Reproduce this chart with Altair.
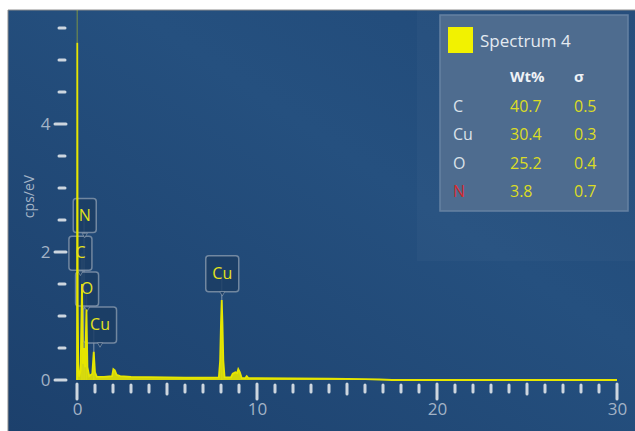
import altair as alt
import pandas as pd

# ---- EDS spectrum: energy (keV) and intensity (cps/eV) ----
energy = [0.0, 0.015, 0.04, 0.07, 0.12, 0.2, 0.277, 0.33, 0.392, 0.45, 0.525, 0.58,
          0.68, 0.85, 0.93, 1.0, 1.1, 1.5, 1.95, 2.02, 2.1, 2.2, 2.4, 3.0, 4.0,
          5.0, 6.0, 7.0, 7.88, 7.95, 8.0, 8.04, 8.08, 8.13, 8.2, 8.55, 8.65,
          8.8, 8.9, 8.96, 9.05, 9.15, 9.35, 9.43, 9.52, 10.0, 12.0, 14.0, 16.0,
          16.8, 17.5, 30.0]
cps = [0.0, 5.27, 1.2, 0.25, 0.05, 0.15, 1.5, 0.25, 0.5, 0.2, 1.1, 0.2,
       0.06, 0.1, 0.44, 0.12, 0.05, 0.05, 0.06, 0.17, 0.15, 0.08, 0.06, 0.05, 0.045,
       0.04, 0.035, 0.035, 0.04, 0.3, 0.9, 1.25, 0.9, 0.3, 0.04, 0.04, 0.1,
       0.12, 0.11, 0.17, 0.12, 0.03, 0.03, 0.06, 0.03, 0.03, 0.025, 0.02, 0.015,
       0.008, 0.0, 0.0]

# ---- peak identification labels ----
label_el = ["N", "C", "O", "Cu", "Cu"]
label_line = [0.392, 0.277, 0.525, 0.93, 8.04]   # line energy, keV
label_x = [0.43, 0.19, 0.56, 1.28, 8.07]          # label anchor, keV
label_y = [2.57, 1.98, 1.42, 0.86, 1.66]          # label anchor, cps/eV
label_kind = ["single", "single", "single", "double", "double"]

# ---- quantification table ----
spectrum_name = "Spectrum 4"
quant_el = ["C", "Cu", "O", "N"]
quant_wt = ["40.7", "30.4", "25.2", "3.8"]
quant_sigma = ["0.5", "0.3", "0.4", "0.7"]

# ---- axis ticks ----
x_major = [0, 10, 20, 30]
x_mid = [5, 15, 25]
x_minor = [v for v in range(1, 30) if v % 5 != 0]
y_major = [0, 2, 4]
y_minor = [0.5, 1, 1.5, 2.5, 3, 3.5, 4.5, 5, 5.5]

# ---- layout ----
W, H = 540, 368
PAD = {"left": 77, "top": 12, "right": 18, "bottom": 51}
PX_PER_CPS = 64
xs = alt.Scale(domain=[0, 30], nice=False, zero=False)
ys = alt.Scale(domain=[0, H / PX_PER_CPS], nice=False)

YELLOW = "#e6e600"
TICK = "#cdd6df"
LABEL = "#a3b3c6"
FONT = "Open Sans"

spec = pd.DataFrame({"e": energy, "c": cps})

labels = pd.DataFrame({
    "el": label_el, "line": label_line, "lx": label_x, "ly": label_y,
    "kind": label_kind,
})

# background panel with a soft diagonal sheen
panel = alt.Chart(pd.DataFrame({"a": [0]})).mark_rect(
    color=alt.Gradient(
        gradient="linear", x1=0, y1=1, x2=1, y2=0,
        stops=[alt.GradientStop(color="#1c406c", offset=0),
               alt.GradientStop(color="#25507f", offset=0.6),
               alt.GradientStop(color="#214a79", offset=1)]),
    stroke="#8c8c8c", strokeWidth=1,
).encode(x=alt.value(-69), x2=alt.value(560), y=alt.value(-2), y2=alt.value(421))

# faint halo behind the results table
halo = alt.Chart(pd.DataFrame({"a": [0]})).mark_rect(
    color="white", opacity=0.025
).encode(x=alt.value(340), x2=alt.value(560), y=alt.value(-2), y2=alt.value(249))

# tick marks
def xticks(vals, y0, y1):
    return alt.Chart(pd.DataFrame({"v": vals})).mark_rule(
        color=TICK, strokeWidth=3, strokeCap="round"
    ).encode(x=alt.X("v:Q", scale=xs), y=alt.value(y0), y2=alt.value(y1))

def yticks(vals, x0, x1):
    return alt.Chart(pd.DataFrame({"v": vals})).mark_rule(
        color=TICK, strokeWidth=3, strokeCap="round"
    ).encode(y=alt.Y("v:Q", scale=ys), x=alt.value(x0), x2=alt.value(x1))

ticks = [
    xticks(x_major, H + 4, H + 19),
    xticks(x_mid, H + 4, H + 14),
    xticks(x_minor, H + 5, H + 12),
    yticks(y_major, -22, -11),
    yticks(y_minor, -18, -12),
]

# pointer lines from the baseline to each label
pointers = alt.Chart(labels).mark_rule(
    color="#9aa9ba", opacity=0.55, strokeWidth=1.5
).encode(x=alt.X("line:Q", scale=xs), y=alt.Y("ly:Q", scale=ys), y2=alt.value(H))

box_style = dict(fill="#1b3d64", fillOpacity=0.85, stroke="#8799ad",
                 strokeWidth=1.5, strokeOpacity=0.8)
boxes_single = alt.Chart(labels).transform_filter(
    alt.datum.kind == "single"
).mark_rect(width=23, height=34, cornerRadius=3, **box_style).encode(
    x=alt.X("lx:Q", scale=xs), y=alt.Y("ly:Q", scale=ys))
boxes_double = alt.Chart(labels).transform_filter(
    alt.datum.kind == "double"
).mark_rect(width=33, height=36, cornerRadius=3, **box_style).encode(
    x=alt.X("lx:Q", scale=xs), y=alt.Y("ly:Q", scale=ys))
notch = alt.Chart(labels).mark_point(
    shape="triangle-down", size=28, filled=True, fill="#1b3d64",
    fillOpacity=0.9, stroke="#8799ad", strokeWidth=1, strokeOpacity=0.7,
    yOffset=20,
).encode(x=alt.X("lx:Q", scale=xs), y=alt.Y("ly:Q", scale=ys))

# the spectrum itself (its layer also carries the axes)
axis_common = dict(ticks=False, tickSize=0, domain=False, grid=False,
                   labelFontSize=17, labelColor=LABEL, labelFont=FONT,
                   zindex=2)
area = alt.Chart(spec).mark_area(color=YELLOW, opacity=0.9).encode(
    x=alt.X("e:Q", scale=xs,
            axis=alt.Axis(values=x_major, format="d", labelPadding=21,
                          labelFlush=False, title=None, **axis_common)),
    y=alt.Y("c:Q", scale=ys,
            axis=alt.Axis(values=y_major, format="d", labelPadding=27,
                          title="cps/eV", titleColor=LABEL, titleFont=FONT,
                          titleFontSize=14, titleFontWeight="normal",
                          titleX=-48, titleY=184, titleAngle=270,
                          titleAlign="center", titleBaseline="middle",
                          **axis_common)),
)
line = alt.Chart(spec).mark_line(color=YELLOW, strokeWidth=1.8).encode(
    x=alt.X("e:Q", scale=xs), y=alt.Y("c:Q", scale=ys))

# faint marker above the zero-energy peak
marker = alt.Chart(pd.DataFrame({"e": [energy[1]], "c": [cps[1]]})).mark_rule(
    color=YELLOW, opacity=0.3, strokeWidth=1.5
).encode(x=alt.X("e:Q", scale=xs), y=alt.Y("c:Q", scale=ys), y2=alt.value(-2))

label_text = alt.Chart(labels).mark_text(
    font=FONT, fontSize=16, color="#e3e31c", baseline="middle", align="center"
).encode(x=alt.X("lx:Q", scale=xs), y=alt.Y("ly:Q", scale=ys), text="el:N")

# results table
table_box = alt.Chart(pd.DataFrame({"a": [0]})).mark_rect(
    fill="#4e6c8f", stroke="#6581a2", strokeWidth=1.5
).encode(x=alt.value(363), x2=alt.value(551), y=alt.value(3), y2=alt.value(199))
swatch = alt.Chart(pd.DataFrame({"a": [0]})).mark_rect(fill="#f2f200").encode(
    x=alt.value(371), x2=alt.value(396), y=alt.value(15), y2=alt.value(41))
title_txt = alt.Chart(pd.DataFrame({"t": [spectrum_name]})).mark_text(
    font=FONT, fontSize=17, color="#e4eaf1", align="left", baseline="alphabetic"
).encode(x=alt.value(403), y=alt.value(35), text="t:N")
head = pd.DataFrame({"t": ["Wt%", "σ"], "px": [433, 497]})
head_txt = alt.Chart(head).mark_text(
    font=FONT, fontSize=15, fontWeight="bold", color="#eef2f6", align="left",
    baseline="alphabetic"
).encode(x=alt.X("px:Q", scale=None), y=alt.value(70), text="t:N")

rows = pd.DataFrame({
    "el": quant_el, "wt": quant_wt, "sig": quant_sigma,
    "py": [100 + 28.3 * i for i in range(len(quant_el))],
    "ec": ["#dbe2ea", "#dbe2ea", "#dbe2ea", "#d42a2e"],
})
row_el = alt.Chart(rows).mark_text(
    font=FONT, fontSize=16, align="left", baseline="alphabetic"
).encode(x=alt.value(376), y=alt.Y("py:Q", scale=None), text="el:N",
         color=alt.Color("ec:N", scale=None))
row_wt = alt.Chart(rows).mark_text(
    font=FONT, fontSize=16, align="left", baseline="alphabetic", color="#dcdc24"
).encode(x=alt.value(433), y=alt.Y("py:Q", scale=None), text="wt:N")
row_sig = alt.Chart(rows).mark_text(
    font=FONT, fontSize=16, align="left", baseline="alphabetic", color="#dcdc24"
).encode(x=alt.value(497), y=alt.Y("py:Q", scale=None), text="sig:N")

chart = alt.layer(
    panel, halo, *ticks, pointers, boxes_single, boxes_double, notch,
    area, line, marker, label_text,
    table_box, swatch, title_txt, head_txt, row_el, row_wt, row_sig,
).properties(
    width=W, height=H,
    autosize=alt.AutoSizeParams(type="none"),
    padding=PAD,
).configure(background="white").configure_view(stroke=None)

chart.save("out.html", embed_options={"renderer": "svg", "actions": False})
